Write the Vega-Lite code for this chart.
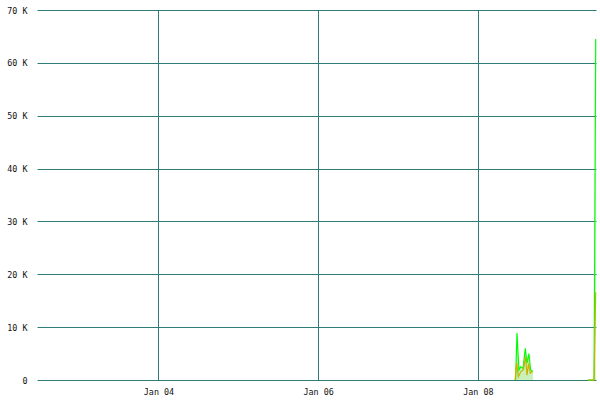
{
  "$schema": "https://vega.github.io/schema/vega-lite/v6.json",
  "autosize": {"type": "none"},
  "width": 559,
  "height": 370,
  "padding": {"left": 37, "top": 10, "right": 4, "bottom": 20},
  "background": "white",
  "config": {
    "view": {"stroke": null},
    "font": "DejaVu Sans Mono",
    "axis": {
      "labelFont": "DejaVu Sans Mono",
      "labelFontSize": 8.4,
      "labelColor": "#111111",
      "domain": false,
      "ticks": false,
      "grid": true,
      "gridColor": "#2f7b78",
      "gridOpacity": 1,
      "gridWidth": 1,
      "title": null
    }
  },
  "data": {
    "values": [
      {"time": "2024-01-08T11:20:00Z", "series": "in", "segment": "a", "value": 0},
      {"time": "2024-01-08T11:45:00Z", "series": "in", "segment": "a", "value": 8900},
      {"time": "2024-01-08T12:20:00Z", "series": "in", "segment": "a", "value": 1900},
      {"time": "2024-01-08T12:50:00Z", "series": "in", "segment": "a", "value": 2500},
      {"time": "2024-01-08T13:35:00Z", "series": "in", "segment": "a", "value": 2200},
      {"time": "2024-01-08T14:15:00Z", "series": "in", "segment": "a", "value": 6000},
      {"time": "2024-01-08T14:45:00Z", "series": "in", "segment": "a", "value": 3200},
      {"time": "2024-01-08T15:20:00Z", "series": "in", "segment": "a", "value": 5000},
      {"time": "2024-01-08T15:50:00Z", "series": "in", "segment": "a", "value": 1900},
      {"time": "2024-01-08T16:35:00Z", "series": "in", "segment": "a", "value": 1600},
      {"time": "2024-01-09T09:00:00Z", "series": "in", "segment": "b", "value": 0},
      {"time": "2024-01-09T10:00:00Z", "series": "in", "segment": "b", "value": 0},
      {"time": "2024-01-09T10:55:00Z", "series": "in", "segment": "b", "value": 0},
      {"time": "2024-01-09T11:25:00Z", "series": "in", "segment": "b", "value": 64500},
      {"time": "2024-01-08T11:10:00Z", "series": "out", "segment": "a", "value": 0},
      {"time": "2024-01-08T11:40:00Z", "series": "out", "segment": "a", "value": 3300},
      {"time": "2024-01-08T12:10:00Z", "series": "out", "segment": "a", "value": 600},
      {"time": "2024-01-08T12:55:00Z", "series": "out", "segment": "a", "value": 1600},
      {"time": "2024-01-08T13:40:00Z", "series": "out", "segment": "a", "value": 1900},
      {"time": "2024-01-08T14:20:00Z", "series": "out", "segment": "a", "value": 4400},
      {"time": "2024-01-08T14:45:00Z", "series": "out", "segment": "a", "value": 900},
      {"time": "2024-01-08T15:15:00Z", "series": "out", "segment": "a", "value": 3100},
      {"time": "2024-01-08T15:45:00Z", "series": "out", "segment": "a", "value": 1300},
      {"time": "2024-01-08T16:25:00Z", "series": "out", "segment": "a", "value": 1600},
      {"time": "2024-01-09T09:00:00Z", "series": "out", "segment": "b", "value": 0},
      {"time": "2024-01-09T10:00:00Z", "series": "out", "segment": "b", "value": 0},
      {"time": "2024-01-09T10:55:00Z", "series": "out", "segment": "b", "value": 0},
      {"time": "2024-01-09T11:25:00Z", "series": "out", "segment": "b", "value": 16600}
    ]
  },
  "encoding": {
    "x": {
      "field": "time",
      "type": "temporal",
      "scale": {"type": "utc", "domain": [1704195000000, 1704799800000]},
      "axis": {
        "values": [1704326400000, 1704499200000, 1704672000000],
        "labelExpr": "utcFormat(datum.value, '%b %d')",
        "labelPadding": 7,
        "labelFlush": false
      }
    },
    "y": {
      "field": "value",
      "type": "quantitative",
      "stack": null,
      "scale": {"domain": [0, 70000], "nice": false},
      "axis": {
        "values": [0, 10000, 20000, 30000, 40000, 50000, 60000, 70000],
        "labelExpr": "datum.value == 0 ? '0' : (datum.value / 1000) + ' K'",
        "labelPadding": 10
      }
    },
    "detail": {"field": "segment", "type": "nominal"}
  },
  "layer": [
    {
      "transform": [{"filter": "datum.series == 'in'"}],
      "mark": {"type": "area", "color": "#a6e88c", "opacity": 0.6}
    },
    {
      "mark": {"type": "line", "strokeWidth": 1.2},
      "encoding": {
        "color": {
          "field": "series",
          "type": "nominal",
          "scale": {"domain": ["in", "out"], "range": ["#00ff00", "#c8b400"]},
          "legend": null
        }
      }
    }
  ]
}
